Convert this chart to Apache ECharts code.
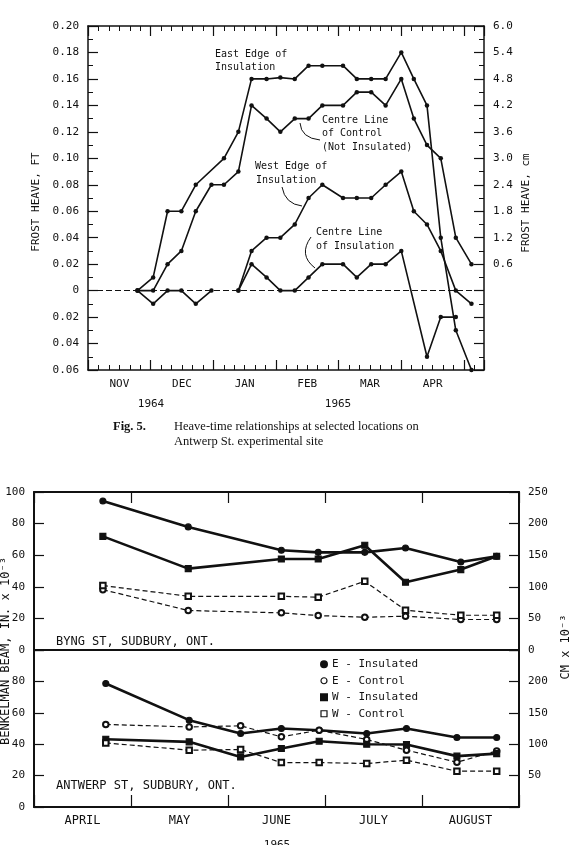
<!DOCTYPE html>
<html>
<head>
<meta charset="utf-8">
<script src="https://cdn.jsdelivr.net/npm/echarts@6/dist/echarts.min.js"></script>
<style>
  html, body { margin: 0; padding: 0; background: #fff; }
  #chart { width: 570px; height: 845px; }
</style>
</head>
<body>
<div id="chart"></div>
<script>
(function () {
  'use strict';

  // Fig. 5 - frost heave, Antwerp St. (x = months after Nov 1, 1964)
  const MONTHS_TOP = ['NOV', 'DEC', 'JAN', 'FEB', 'MAR', 'APR'];
  const WEEKS = [0.79, 1.04, 1.27, 1.49, 1.72, 1.97, 2.17, 2.40, 2.61, 2.85, 3.07, 3.30,
    3.52, 3.74, 4.07, 4.29, 4.52, 4.75, 5.00, 5.20, 5.41, 5.63, 5.87, 6.12];
  // null = no reading, '-' = break in the line
  const EAST_EDGE = [0, 0.01, 0.06, 0.06, 0.08, null, 0.10, 0.12, 0.16, 0.16, 0.161, 0.16,
    0.17, 0.17, 0.17, 0.16, 0.16, 0.16, 0.18, 0.16, 0.14, 0.04, -0.03, -0.06];
  const CONTROL_CL = [0, 0, 0.02, 0.03, 0.06, 0.08, 0.08, 0.09, 0.14, 0.13, 0.12, 0.13,
    0.13, 0.14, 0.14, 0.15, 0.15, 0.14, 0.16, 0.13, 0.11, 0.10, 0.04, 0.02];
  const WEST_EDGE = [null, null, null, null, null, null, null, 0, 0.03, 0.04, 0.04, 0.05,
    0.07, 0.08, 0.07, 0.07, 0.07, 0.08, 0.09, 0.06, 0.05, 0.03, 0, -0.01];
  const INSUL_CL = [0, -0.01, 0, 0, -0.01, 0, '-', 0, 0.02, 0.01, 0, 0,
    0.01, 0.02, 0.02, 0.01, 0.02, 0.02, 0.03, null, -0.05, -0.02, -0.02, null];

  // Benkelman beam, 1965 (x = months after Apr 1)
  const MONTHS_BOT = ['APRIL', 'MAY', 'JUNE', 'JULY', 'AUGUST'];
  const BYNG_DATES = [0.71, 1.59, 2.55, 2.93, 3.41, 3.83, 4.40, 4.77];
  const BYNG_E_INS = [94.3, 77.9, 63.1, 61.8, 61.8, 64.6, 55.7, 59.3];
  const BYNG_E_CTL = [38.2, 25.0, 23.5, 21.8, 20.7, 21.4, 19.3, 19.3];
  const BYNG_W_INS = [71.9, 51.5, 57.6, 57.6, 66.3, 42.9, 50.9, 59.3];
  const BYNG_W_CTL = [40.8, 34.0, 34.0, 33.4, 43.5, 25.2, 22.0, 22.0];
  const ANTW_DATES = [0.74, 1.60, 2.13, 2.55, 2.94, 3.43, 3.84, 4.36, 4.77];
  const ANTW_E_INS = [78.7, 55.3, 46.8, 50.0, 48.9, 46.8, 50.0, 44.3, 44.3];
  const ANTW_E_CTL = [52.6, 51.0, 51.7, 44.7, 48.9, 43.0, 36.2, 28.5, 35.7];
  const ANTW_W_INS = [43.2, 41.5, 31.9, 37.3, 41.9, 40.0, 39.8, 32.4, 34.0];
  const ANTW_W_CTL = [40.8, 36.2, 36.6, 28.3, 28.3, 27.7, 29.8, 22.8, 22.8];

  const INK = '#111';
  const MONO = '"DejaVu Sans Mono", "Liberation Mono", monospace';
  const SERIF = '"Liberation Serif", "DejaVu Serif", serif';

  function pairs(xs, ys) {
    return xs.map(function (x, i) { return [x, ys[i]]; })
      .filter(function (p) { return p[1] !== null; });
  }

  function halfLabel(names) {
    return function (v) {
      const k = Math.floor(v + 1e-6);
      return Math.abs(v - k - 0.5) < 1e-6 ? (names[k] || '') : '';
    };
  }

  function tickAxis(grid, pos, max, major, minor, width) {
    return {
      type: 'value', gridIndex: grid, position: pos, min: 0, max: max, interval: 1,
      axisLine: { show: true, onZero: false, lineStyle: { color: INK, width: width } },
      axisTick: { show: major > 0, inside: true, length: major, lineStyle: { color: INK, width: 1.2 } },
      minorTick: { show: minor > 0, splitNumber: 6, length: minor, lineStyle: { color: INK, width: 1 } },
      axisLabel: { show: false }, splitLine: { show: false }, minorSplitLine: { show: false }
    };
  }

  function labelAxis(grid, max, names, margin, size) {
    return {
      type: 'value', gridIndex: grid, position: 'bottom', min: 0, max: max, interval: 0.5,
      axisLine: { show: false, onZero: false }, axisTick: { show: false }, splitLine: { show: false },
      axisLabel: {
        show: true, margin: margin, color: INK, fontFamily: MONO, fontSize: size,
        showMinLabel: true, showMaxLabel: true, hideOverlap: false,
        formatter: halfLabel(names)
      }
    };
  }

  function valueAxis(grid, pos, min, max, step, fmt, opts) {
    return Object.assign({
      type: 'value', gridIndex: grid, position: pos, min: min, max: max, interval: step,
      axisLine: { show: true, onZero: false, lineStyle: { color: INK, width: 1.5 } },
      axisTick: { show: true, inside: true, length: 10, lineStyle: { color: INK, width: 1.2 } },
      splitLine: { show: false },
      axisLabel: { color: INK, fontFamily: MONO, fontSize: 11, margin: 9, formatter: fmt }
    }, opts || {});
  }

  function round(v, d) { return Math.round(v * Math.pow(10, d)) / Math.pow(10, d); }

  function heaveLine(name, ys, extra) {
    return Object.assign({
      name: name, type: 'line', xAxisIndex: 0, yAxisIndex: 0,
      data: pairs(WEEKS, ys), symbol: 'circle', symbolSize: 4.5,
      itemStyle: { color: INK }, lineStyle: { color: INK, width: 1.6 },
      connectNulls: false, silent: true
    }, extra || {});
  }

  function beamLine(name, xs, ys, panel, insulated, symbol) {
    return {
      name: name, type: 'line', xAxisIndex: panel === 0 ? 4 : 5, yAxisIndex: panel === 0 ? 2 : 4,
      data: pairs(xs, ys), symbol: symbol, symbolSize: insulated ? 6 : 5.5,
      itemStyle: { color: INK, borderColor: INK, borderWidth: 1.1 },
      lineStyle: insulated ? { color: INK, width: 2.6 } : { color: INK, width: 1.2, type: [5, 3] },
      silent: true
    };
  }

  function txt(x, y, text, font, align, extra) {
    return Object.assign({
      type: 'text', x: x, y: y, silent: true,
      style: { text: text, fill: INK, font: font, align: align || 'left', verticalAlign: 'middle' }
    }, extra || {});
  }

  function leader(x1, y1, cx, cy, x2, y2) {
    return {
      type: 'bezierCurve', silent: true,
      shape: { x1: x1, y1: y1, cpx1: cx, cpy1: cy, x2: x2, y2: y2 },
      style: { stroke: INK, lineWidth: 1, fill: 'none' }
    };
  }

  const chart = echarts.init(document.getElementById('chart'));
  const F10 = '10px ' + MONO;
  const F11 = '11px ' + MONO;
  const F12 = '12px ' + MONO;
  const MINOR_Y = { minorTick: { show: true, splitNumber: 2, length: 5, lineStyle: { color: INK } } };
  const THICK = { axisLine: { show: true, onZero: false, lineStyle: { color: INK, width: 2 } } };

  chart.setOption({
    animation: false,
    backgroundColor: '#fff',
    grid: [
      { left: 88, top: 26, width: 396, height: 344 },
      { left: 34, top: 492, width: 485, height: 158 },
      { left: 34, top: 650, width: 485, height: 157 }
    ],
    xAxis: [
      tickAxis(0, 'bottom', 6.32, 10, 5, 1.5),
      tickAxis(0, 'top', 6.32, 10, 5, 1.5),
      labelAxis(0, 6.32, MONTHS_TOP, 9, 11),
      tickAxis(1, 'top', 5, 11, 0, 2),
      tickAxis(1, 'bottom', 5, 0, 0, 2),
      tickAxis(2, 'bottom', 5, 12, 0, 2),
      labelAxis(2, 5, MONTHS_BOT, 8, 12)
    ],
    yAxis: [
      valueAxis(0, 'left', -0.06, 0.2, 0.02, function (v) {
        return Math.abs(v) < 1e-9 ? '0' : Math.abs(round(v, 2)).toFixed(2);
      }, MINOR_Y),
      valueAxis(0, 'right', -0.06, 0.2, 0.02, function (v) {
        return v > 1e-9 ? (round(v, 2) * 30).toFixed(1) : '';
      }, MINOR_Y),
      valueAxis(1, 'left', 0, 100, 20, function (v) { return String(v); }, THICK),
      valueAxis(1, 'right', 0, 100, 20, function (v) { return String(v * 2.5); }, THICK),
      valueAxis(2, 'left', 0, 100, 20, function (v) { return v < 100 ? String(v) : ''; }, THICK),
      valueAxis(2, 'right', 0, 100, 20, function (v) { return v > 0 && v < 100 ? String(v * 2.5) : ''; }, THICK)
    ],
    legend: {
      orient: 'vertical', left: 315, top: 653, itemWidth: 6, itemHeight: 6, itemGap: 4,
      selectedMode: false,
      textStyle: { color: INK, fontFamily: MONO, fontSize: 11, lineHeight: 12.5 },
      data: [
        { name: 'E - Insulated', icon: 'circle', itemStyle: { color: INK } },
        { name: 'E - Control', icon: 'circle', itemStyle: { color: '#fff', borderColor: INK, borderWidth: 1.2 } },
        { name: 'W - Insulated', icon: 'rect', itemStyle: { color: INK } },
        { name: 'W - Control', icon: 'rect', itemStyle: { color: '#fff', borderColor: INK, borderWidth: 1.2 } }
      ]
    },
    series: [
      heaveLine('East Edge', EAST_EDGE, {
        markLine: {
          silent: true, symbol: 'none', label: { show: false },
          lineStyle: { color: INK, width: 1, type: [6, 3] },
          data: [{ yAxis: 0 }]
        }
      }),
      heaveLine('Control', CONTROL_CL),
      heaveLine('West Edge', WEST_EDGE),
      heaveLine('Centre Insulation', INSUL_CL),

      beamLine('E - Insulated', BYNG_DATES, BYNG_E_INS, 0, true, 'circle'),
      beamLine('E - Control', BYNG_DATES, BYNG_E_CTL, 0, false, 'emptyCircle'),
      beamLine('W - Insulated', BYNG_DATES, BYNG_W_INS, 0, true, 'rect'),
      beamLine('W - Control', BYNG_DATES, BYNG_W_CTL, 0, false, 'emptyRect'),

      beamLine('E - Insulated', ANTW_DATES, ANTW_E_INS, 1, true, 'circle'),
      beamLine('E - Control', ANTW_DATES, ANTW_E_CTL, 1, false, 'emptyCircle'),
      beamLine('W - Insulated', ANTW_DATES, ANTW_W_INS, 1, true, 'rect'),
      beamLine('W - Control', ANTW_DATES, ANTW_W_CTL, 1, false, 'emptyRect')
    ],
    graphic: [
      // top chart annotations
      txt(215, 54, 'East Edge of', F10),
      txt(215, 67, 'Insulation', F10),
      txt(322, 120, 'Centre Line', F10),
      txt(322, 133, 'of Control', F10),
      txt(322, 147, '(Not Insulated)', F10),
      txt(255, 166, 'West Edge of', F10),
      txt(256, 180, 'Insulation', F10),
      txt(316, 232, 'Centre Line', F10),
      txt(316, 246, 'of Insulation', F10),
      leader(300, 123, 301, 138, 320, 140),
      leader(282, 187, 285, 204, 302, 206),
      leader(311, 237, 298, 255, 315, 268),
      txt(36, 202, 'FROST HEAVE, FT', F11, 'center', { rotation: Math.PI / 2 }),
      txt(526, 203, 'FROST HEAVE, cm', F11, 'center', { rotation: Math.PI / 2 }),
      txt(151, 404, '1964', F11, 'center'),
      txt(338, 404, '1965', F11, 'center'),
      // caption
      txt(113, 427, 'Fig. 5.', 'bold 12.5px ' + SERIF),
      txt(174, 427, 'Heave-time relationships at selected locations on', '12.5px ' + SERIF),
      txt(174, 442, 'Antwerp St. experimental site', '12.5px ' + SERIF),
      // bottom chart texts
      txt(56, 642, 'BYNG ST, SUDBURY, ONT.', F12),
      txt(56, 786, 'ANTWERP ST, SUDBURY, ONT.', F12),
      txt(6, 651, 'BENKELMAN BEAM, IN. x 10\u207B\u00B3', F12, 'center', { rotation: Math.PI / 2 }),
      txt(566, 647, 'CM x 10\u207B\u00B3', F12, 'center', { rotation: Math.PI / 2 }),
      txt(277, 845, '1965', F11, 'center')
    ]
  });
})();
</script>
</body>
</html>
